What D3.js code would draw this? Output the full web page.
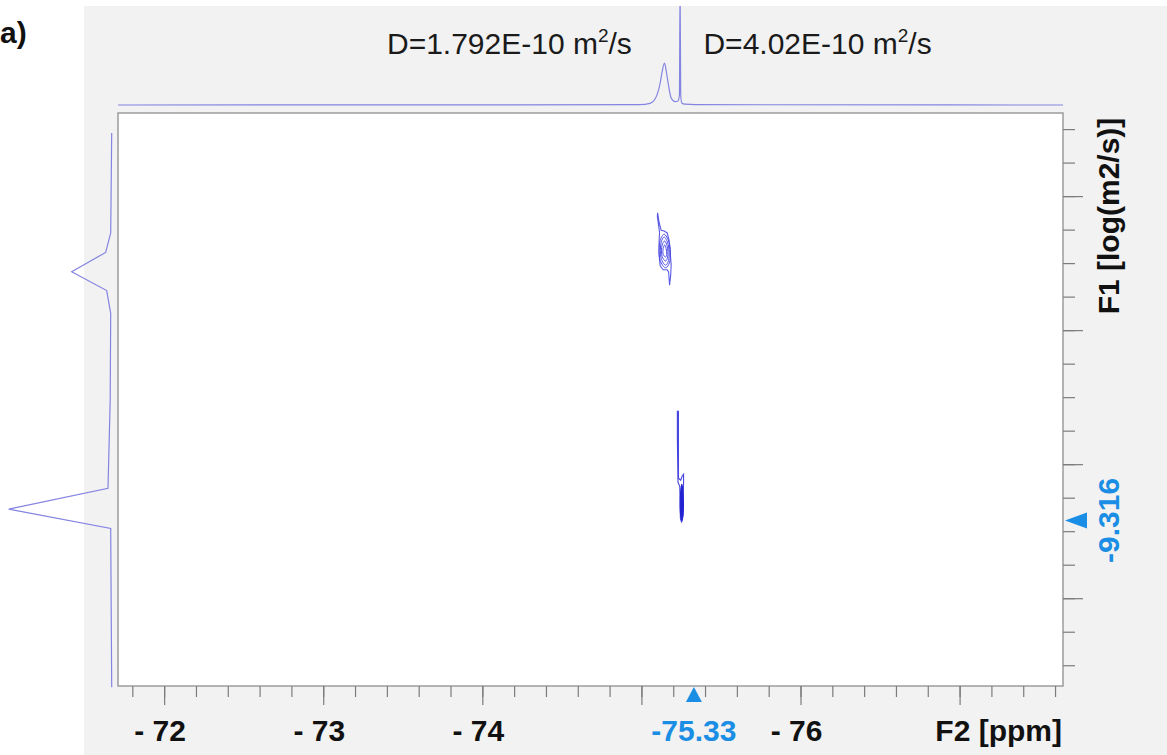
<!DOCTYPE html>
<html>
<head>
<meta charset="utf-8">
<script src="https://cdn.jsdelivr.net/npm/d3@7"></script>
<style>
  html, body { margin: 0; padding: 0; background: #ffffff; }
  svg { display: block; font-family: "Liberation Sans", Arial, sans-serif; }
</style>
</head>
<body>
<svg id="chart" width="1167" height="755"></svg>
<script>
// ---- displayed region ----
const f2Range = [-71.71, -77.65];   // ppm, left -> right
const f1Range = [-9.924, -9.069];   // log(m2/s), top -> bottom

// ---- axis ticks ----
const f2MinorTicks = [-71.8,-72.0,-72.2,-72.4,-72.6,-72.8,-73.0,-73.2,-73.4,-73.6,-73.8,-74.0,-74.2,-74.4,-74.6,-74.8,-75.0,-75.2,-75.4,-75.6,-75.8,-76.0,-76.2,-76.4,-76.6,-76.8,-77.0,-77.2,-77.4,-77.6];
const f2MajorTicks = [-72, -73, -74, -75, -76, -77];
const f2TickLabels = ["- 72", "- 73", "- 74", "", "- 76", ""];
const f1MinorTicks = [-9.90,-9.85,-9.80,-9.75,-9.70,-9.65,-9.60,-9.55,-9.50,-9.45,-9.40,-9.35,-9.30,-9.25,-9.20,-9.15,-9.10];
const f1MajorTicks = [-9.8, -9.6, -9.4, -9.2];
const f2Title = "F2 [ppm]";
const f1Title = "F1 [log(m2/s)]";

// ---- cursor position ----
const cursorF2 = -75.33;
const cursorF1 = -9.316;

// ---- diffusion coefficients ----
const diffLabels = ["D=1.792E-10 m", "D=4.02E-10 m"];
const diffLabelAnchorPpm = [-74.94, -75.39];

// ---- F2 projection (top) ----
const topPpm = [-71.71, -74.99, -75.055, -75.086, -75.118, -75.130, -75.145, -75.157, -75.170, -75.187, -75.212, -75.230, -75.239, -75.243, -75.247, -75.254, -75.274, -75.338, -77.65];
const topInt = [0, 0.003, 0.017, 0.06, 0.22, 0.33, 0.42, 0.33, 0.20, 0.07, 0.033, 0.04, 0.10, 1.20, 0.10, 0.02, 0.008, 0.003, 0];

// ---- F1 projection (left) ----
const leftLogD = [-9.894, -9.745, -9.716, -9.687, -9.659, -9.625, -9.496, -9.406, -9.364, -9.333, -9.304, -9.067];
const leftInt  = [0.0, 0.01, 0.06, 0.40, 0.05, 0.01, 0.015, 0.03, 0.037, 1.03, 0.01, 0.0];

// ---- contour rings [ppm, logD] ----
const upperOuter = [[-75.102,-9.775],[-75.111,-9.761],[-75.124,-9.749],[-75.143,-9.748],[-75.162,-9.745],[-75.174,-9.734],[-75.181,-9.716],[-75.187,-9.697],[-75.184,-9.682],[-75.177,-9.667],[-75.171,-9.687],[-75.162,-9.690],[-75.137,-9.690],[-75.118,-9.696],[-75.111,-9.712],[-75.111,-9.731],[-75.114,-9.746],[-75.100,-9.770]];
const upperRings = [
  [[-75.143,-9.743],[-75.174,-9.731],[-75.177,-9.701],[-75.152,-9.693],[-75.118,-9.704],[-75.118,-9.734]],
  [[-75.143,-9.739],[-75.168,-9.728],[-75.171,-9.704],[-75.152,-9.697],[-75.124,-9.707],[-75.124,-9.731]],
  [[-75.146,-9.733],[-75.162,-9.725],[-75.165,-9.709],[-75.152,-9.703],[-75.130,-9.710],[-75.130,-9.727]],
  [[-75.146,-9.727],[-75.155,-9.722],[-75.159,-9.713],[-75.152,-9.709],[-75.137,-9.713],[-75.137,-9.722]]
];
const lowerOuter = [[-75.226,-9.479],[-75.233,-9.479],[-75.233,-9.379],[-75.247,-9.376],[-75.256,-9.382],[-75.265,-9.385],[-75.265,-9.373],[-75.262,-9.346],[-75.261,-9.324],[-75.253,-9.313],[-75.245,-9.319],[-75.243,-9.346],[-75.241,-9.367],[-75.230,-9.373],[-75.226,-9.436]];
const lowerRings = [
  [[-75.254,-9.370],[-75.261,-9.358],[-75.261,-9.324],[-75.254,-9.316],[-75.247,-9.324],[-75.247,-9.358]],
  [[-75.254,-9.361],[-75.257,-9.352],[-75.257,-9.331],[-75.254,-9.322],[-75.250,-9.331],[-75.250,-9.352]]
];

// ---- layout ----
const plot = { left: 118, top: 113, right: 1063, bottom: 686 };
const panel = { left: 84, top: 6 };
const W = 1167, H = 755;
const cursorBlue = "#1a8de4";
const projColor = "#8484e2";
const tickColor = "#7c7c7c";

const svg = d3.select("#chart");

const x = d3.scaleLinear().domain(f2Range).range([plot.left, plot.right]);
const y = d3.scaleLinear().domain(f1Range).range([plot.top, plot.bottom]);
const topY = d3.scaleLinear().domain([0, 1]).range([105, 5]);
const leftX = d3.scaleLinear().domain([0, 1]).range([111.7, 11.7]);

// grey frame
svg.append("rect").attr("x", panel.left).attr("y", panel.top)
  .attr("width", W - panel.left).attr("height", H - panel.top).attr("fill", "#f2f2f2");

svg.append("defs").append("clipPath").attr("id", "panelClip")
  .append("rect").attr("x", panel.left).attr("y", panel.top)
  .attr("width", W - panel.left).attr("height", H - panel.top);

// panel label
svg.append("text").attr("x", 0).attr("y", 43)
  .attr("font-size", 30).attr("font-weight", "bold").attr("fill", "#111").text("a)");

// plot area
svg.append("rect").attr("x", plot.left).attr("y", plot.top)
  .attr("width", plot.right - plot.left).attr("height", plot.bottom - plot.top)
  .attr("fill", "#ffffff").attr("stroke", "#9c9c9c").attr("stroke-width", 1.5);

// top projection
const topData = topPpm.map((p, i) => [p, topInt[i]]);
svg.append("path").datum(topData)
  .attr("clip-path", "url(#panelClip)")
  .attr("fill", "none").attr("stroke", projColor).attr("stroke-width", 1.2)
  .attr("d", d3.line().x(d => x(d[0])).y(d => topY(d[1])).curve(d3.curveMonotoneX));

// left projection
const leftData = leftLogD.map((v, i) => [v, leftInt[i]]);
svg.append("path").datum(leftData)
  .attr("fill", "none").attr("stroke", projColor).attr("stroke-width", 1.2)
  .attr("d", d3.line().x(d => leftX(d[1])).y(d => y(d[0])));

// diffusion labels
diffLabels.forEach((lab, i) => {
  const t = svg.append("text")
    .attr("x", x(diffLabelAnchorPpm[i])).attr("y", 54)
    .attr("text-anchor", i === 0 ? "end" : "start")
    .attr("font-size", 30).attr("fill", "#1a1a1a");
  t.append("tspan").text(lab);
  t.append("tspan").attr("font-size", 19).attr("dy", -12).text("2");
  t.append("tspan").attr("font-size", 30).attr("dy", 12).text("/s");
});

// contours
const ringLine = d3.line().x(d => x(d[0])).y(d => y(d[1]));
const contours = svg.append("g").attr("fill", "none");
contours.append("path").datum(upperOuter)
  .attr("stroke", "#5a5ae6").attr("stroke-width", 1.1)
  .attr("d", ringLine.curve(d3.curveLinearClosed));
upperRings.forEach(r => {
  contours.append("path").datum(r)
    .attr("stroke", "#4c4ce4").attr("stroke-width", 1)
    .attr("d", ringLine.curve(d3.curveCatmullRomClosed.alpha(0.5)));
});
contours.append("path").datum(lowerOuter)
  .attr("stroke", "#4646e0").attr("stroke-width", 1.1)
  .attr("d", ringLine.curve(d3.curveLinearClosed));
lowerRings.forEach((r, i) => {
  contours.append("path").datum(r)
    .attr("stroke", "#2222d2").attr("stroke-width", 1.2)
    .attr("fill", i === 0 ? "#2c2cd8" : "none")
    .attr("d", ringLine.curve(d3.curveCatmullRomClosed.alpha(0.5)));
});

// bottom axis
function styleAxis(g) {
  g.select(".domain").remove();
  g.selectAll("line").attr("stroke", tickColor).attr("stroke-width", 1.2);
  g.selectAll("text").remove();
}
svg.append("g").attr("transform", `translate(0,${plot.bottom})`)
  .call(d3.axisBottom(x).tickValues(f2MinorTicks).tickSize(11).tickFormat(""))
  .call(styleAxis);
svg.append("g").attr("transform", `translate(0,${plot.bottom})`)
  .call(d3.axisBottom(x).tickValues(f2MajorTicks).tickSize(19).tickFormat(""))
  .call(styleAxis);

svg.append("g").selectAll("text").data(f2MajorTicks.filter((d, i) => f2TickLabels[i]))
  .join("text")
  .attr("x", d => x(d) - 4).attr("y", 741)
  .attr("text-anchor", "middle").attr("font-size", 30).attr("font-weight", "bold")
  .attr("fill", "#111")
  .text(d => f2TickLabels[f2MajorTicks.indexOf(d)]);

svg.append("text").attr("x", plot.right - 1).attr("y", 741)
  .attr("text-anchor", "end").attr("font-size", 30).attr("font-weight", "bold")
  .attr("fill", "#111").text(f2Title);

// right axis
svg.append("g").attr("transform", `translate(${plot.right},0)`)
  .call(d3.axisRight(y).tickValues(f1MinorTicks).tickSize(12).tickFormat(""))
  .call(styleAxis);
svg.append("g").attr("transform", `translate(${plot.right},0)`)
  .call(d3.axisRight(y).tickValues(f1MajorTicks).tickSize(20).tickFormat(""))
  .call(styleAxis);

svg.append("text")
  .attr("transform", `translate(1119,216) rotate(-90)`)
  .attr("text-anchor", "middle").attr("font-size", 30).attr("font-weight", "bold")
  .attr("fill", "#111").text(f1Title);

// cursor markers
const cx = x(cursorF2), cy = y(cursorF1);
svg.append("path")
  .attr("d", `M${cx},${plot.bottom + 1}L${cx + 8},${plot.bottom + 16}L${cx - 8},${plot.bottom + 16}Z`)
  .attr("fill", cursorBlue);
svg.append("text").attr("x", cx).attr("y", 741)
  .attr("text-anchor", "middle").attr("font-size", 30).attr("font-weight", "bold")
  .attr("fill", cursorBlue).text(cursorF2.toFixed(2));

svg.append("path")
  .attr("d", `M${plot.right + 2},${cy}L${plot.right + 24},${cy - 8}L${plot.right + 24},${cy + 8}Z`)
  .attr("fill", cursorBlue);
svg.append("text")
  .attr("transform", `translate(1119,${cy}) rotate(-90)`)
  .attr("text-anchor", "middle").attr("font-size", 30).attr("font-weight", "bold")
  .attr("fill", cursorBlue).text(cursorF1.toFixed(3));
</script>
</body>
</html>
